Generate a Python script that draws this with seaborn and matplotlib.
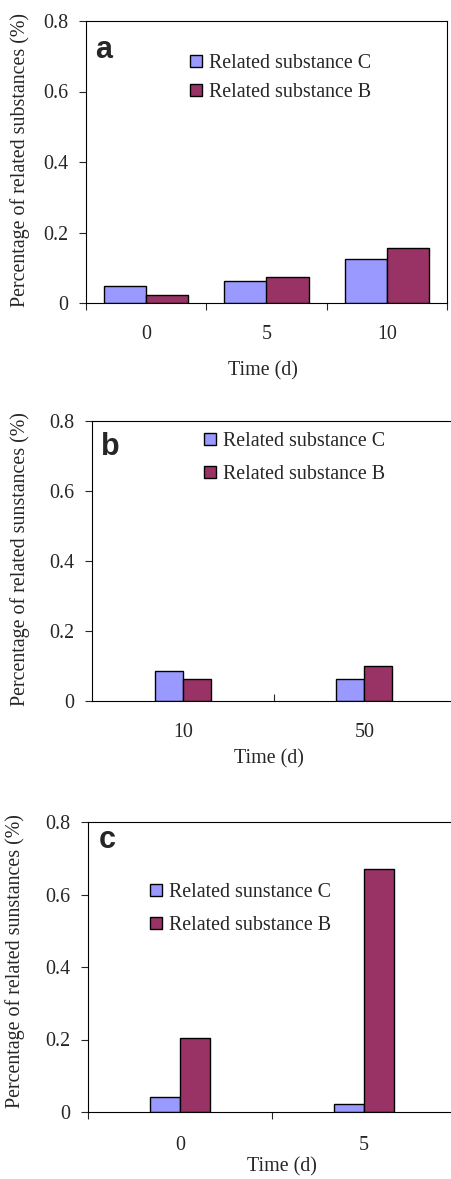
import pandas as pd
import matplotlib.pyplot as plt
import seaborn as sns

# panel a
times_a = ["0", "5", "10"]
sub_c_a = [0.048, 0.061, 0.124]
sub_b_a = [0.024, 0.073, 0.157]
# panel b
times_b = ["10", "50"]
sub_c_b = [0.087, 0.063]
sub_b_b = [0.063, 0.101]
# panel c
times_c = ["0", "5"]
sub_c_c = [0.041, 0.023]
sub_b_c = [0.204, 0.671]

names_ab = ["Related substance C", "Related substance B"]
names_c = ["Related sunstance C", "Related substance B"]
ylab_a = "Percentage of related substances (%)"
ylab_bc = "Percentage of related sunstances (%)"
yticks = [0, 0.2, 0.4, 0.6, 0.8]
ytick_labels = ["0", "0.2", "0.4", "0.6", "0.8"]

colors = ["#9999FF", "#993366"]

sns.set_style("white")
plt.rcParams["font.family"] = ["Liberation Serif", "DejaVu Serif"]
plt.rcParams["font.size"] = 14.4

fig = plt.figure(figsize=(4.51, 11.79), dpi=100)


def panel(rect, times, vals_c, vals_b, names, ylab, letter, width,
          minor_ticks, minor_dir, xpad, ylab_xy, xlab_xy, letter_xy, leg_xy, leg_space):
    ax = fig.add_axes(rect)
    n = len(times)
    df = pd.DataFrame({
        "time": times * 2,
        "value": vals_c + vals_b,
        "substance": [names[0]] * n + [names[1]] * n,
    })
    sns.barplot(data=df, x="time", y="value", hue="substance", order=times,
                hue_order=names, palette=colors, saturation=1, width=width,
                edgecolor="black", linewidth=1, ax=ax)
    ax.set_xlim(-0.5, n - 0.5)
    ax.set_ylim(0, 0.8)
    ax.set_yticks(yticks)
    ax.set_yticklabels(ytick_labels)
    ax.set_xticks(minor_ticks, minor=True)
    ax.tick_params(axis="y", left=True, direction="out", length=5, width=0.8, pad=8)
    ax.tick_params(axis="x", which="major", bottom=True, length=0, pad=xpad)
    ax.tick_params(axis="x", which="minor", bottom=True, direction=minor_dir,
                   length=5, width=0.8)
    for s in ax.spines.values():
        s.set_color("black")
        s.set_linewidth(0.8)
    ax.set_ylabel(ylab)
    ax.set_xlabel("Time (d)")
    ax.yaxis.set_label_coords(*ylab_xy)
    ax.xaxis.set_label_coords(*xlab_xy)
    ax.text(letter_xy[0], letter_xy[1], letter, transform=ax.transAxes,
            family="Liberation Sans", fontweight="bold", fontsize=22,
            ha="left", va="baseline")
    sns.move_legend(ax, "center left", bbox_to_anchor=leg_xy, frameon=False,
                    title=None, borderaxespad=0, borderpad=0,
                    handlelength=0.6, handleheight=0.6, handletextpad=0.35,
                    labelspacing=leg_space)
    return ax


panel([86 / 451, (1179 - 303) / 1179, 361 / 451, 282 / 1179],
      times_a, sub_c_a, sub_b_a, names_ab, ylab_a, "a", 0.7,
      [-0.5, 0.5, 1.5, 2.5], "out", 16,
      (-0.155, 0.507), (0.49, -0.206), (0.025, 0.869), (0.288, 0.798), 0.5)

panel([92 / 451, (1179 - 701) / 1179, 363 / 451, 280 / 1179],
      times_b, sub_c_b, sub_b_b, names_ab, ylab_bc, "b", 0.31,
      [0.5], "in", 16,
      (-0.171, 0.507), (0.488, -0.171), (0.025, 0.879), (0.309, 0.868), 0.7)

panel([88 / 451, (1179 - 1112) / 1179, 368 / 451, 290 / 1179],
      times_c, sub_c_c, sub_b_c, names_c, ylab_bc, "c", 0.33,
      [-0.5, 0.5, 1.5], "out", 17,
      (-0.171, 0.52), (0.527, -0.155), (0.03, 0.91), (0.168, 0.70), 0.7)

fig.savefig("out.png", dpi=100)
